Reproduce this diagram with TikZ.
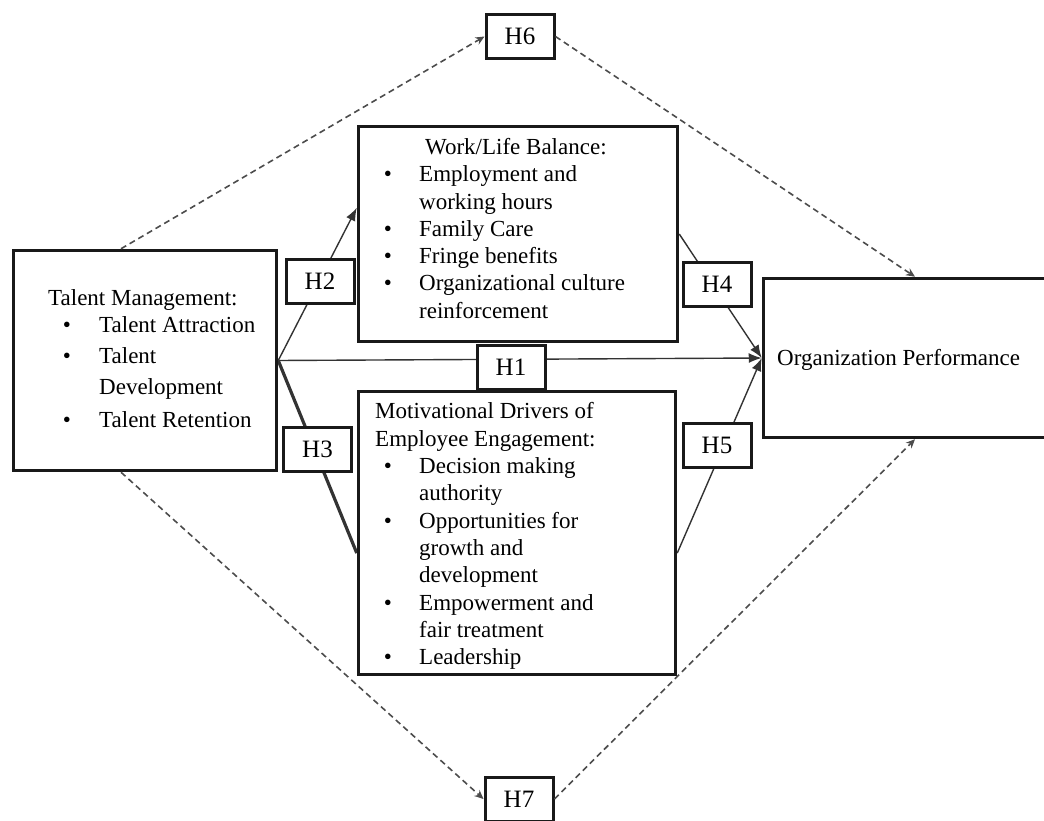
\documentclass[tikz,border=0pt]{standalone}
\usepackage{fontspec}
\setmainfont{Liberation Serif}
\usetikzlibrary{arrows.meta,calc}
\pgfdeclarelayer{bg}
\pgfsetlayers{bg,main}
\begin{document}
\begin{tikzpicture}[x=1pt,y=-1pt,
  font=\fontsize{23}{27}\selectfont,
  box/.style={draw=black!90, line width=3.5pt, inner sep=0pt},
  hbox/.style={draw=black!90, line width=3pt, fill=white, minimum width=68pt, minimum height=44pt, inner sep=0pt, font=\fontsize{25}{27}\selectfont},
  txt/.style={inner sep=0pt, anchor=mid west, yshift=-5pt},
  bul/.style={inner sep=0pt, anchor=mid, yshift=-5pt},
  conn/.style={line width=1.4pt, draw=black!80},
  arr/.style={-{Latex[length=13pt,width=10pt]}},
  dashconn/.style={line width=1.6pt, draw=black!70, dash pattern=on 6pt off 4pt, -{Stealth[length=9pt,width=8pt]}}]
\useasboundingbox (0,0) rectangle (1044,821);
\clip (0,0) rectangle (1044,821);
% main boxes
\node[box, minimum width=263pt, minimum height=220pt] (tm) at (145,360.5) {};
\node[box, minimum width=319pt, minimum height=215pt] (wl) at (518,234) {};
\node[box, minimum width=317pt, minimum height=283pt] (md) at (517,533) {};
\node[box, minimum width=303pt, minimum height=159pt] (org) at (915,358) {};
% hypothesis boxes
\node[hbox] (h1) at (511,367) {H1};
\node[hbox] (h2) at (320,281.5) {H2};
\node[hbox] (h3) at (317.5,449) {H3};
\node[hbox] (h4) at (717,284.5) {H4};
\node[hbox] (h5) at (717,445) {H5};
\node[hbox] (h6) at (520,36.5) {H6};
\node[hbox] (h7) at (519,799) {H7};
% connectors
\begin{pgfonlayer}{bg}
\draw[conn, arr] (tm.east) -- ($(wl.north west)!0.38!(wl.south west)$);
\draw[conn, line width=3.2pt] (tm.east) -- ($(md.north west)!0.57!(md.south west)$);
\draw[conn, arr] (tm.east) -- (org.west);
\draw[conn, arr] (wl.east) -- (org.west);
\draw[conn, arr] ($(md.north east)!0.57!(md.south east)$) -- (org.west);
\end{pgfonlayer}
\draw[dashconn] ($(tm.north west)!0.41!(tm.north east)$) -- (h6.west);
\draw[dashconn] (h6.east) -- (org.north);
\draw[dashconn] ($(tm.south west)!0.41!(tm.south east)$) -- (h7.west);
\draw[dashconn] (h7.east) -- (org.south);
% texts
\node[txt] (tmh) at (48,298) {Talent Management:};
\foreach \yy [count=\i] in {325,356,420} \node[bul] (tmb\i) at (67,\yy) {\textbullet};
\node[txt] (tm1) at (99,325) {Talent Attraction};
\node[txt] (tm2) at (99,356) {Talent};
\node[txt] (tm3) at (99,387) {Development};
\node[txt] (tm4) at (99,420) {Talent Retention};
\node[txt] (wlh) at (425,147) {Work/Life Balance:};
\foreach \yy [count=\i] in {174,229,256,283} \node[bul] (wlb\i) at (388,\yy) {\textbullet};
\node[txt] (wl1) at (419,174) {Employment and};
\node[txt] (wl2) at (419,202) {working hours};
\node[txt] (wl3) at (419,229) {Family Care};
\node[txt] (wl4) at (419,256) {Fringe benefits};
\node[txt] (wl5) at (419,283) {Organizational culture};
\node[txt] (wl6) at (419,311) {reinforcement};
\node[txt] (mdh1) at (375,411) {Motivational Drivers of};
\node[txt] (mdh2) at (375,439) {Employee Engagement:};
\foreach \yy [count=\i] in {466,521,603,657} \node[bul] (mdb\i) at (388,\yy) {\textbullet};
\node[txt] (md1) at (419,466) {Decision making};
\node[txt] (md2) at (419,493) {authority};
\node[txt] (md3) at (419,521) {Opportunities for};
\node[txt] (md4) at (419,548) {growth and};
\node[txt] (md5) at (419,575) {development};
\node[txt] (md6) at (419,603) {Empowerment and};
\node[txt] (md7) at (419,630) {fair treatment};
\node[txt] (md8) at (419,657) {Leadership};
\node[txt] (orgt) at (777,358) {Organization Performance};
\end{tikzpicture}
\end{document}
